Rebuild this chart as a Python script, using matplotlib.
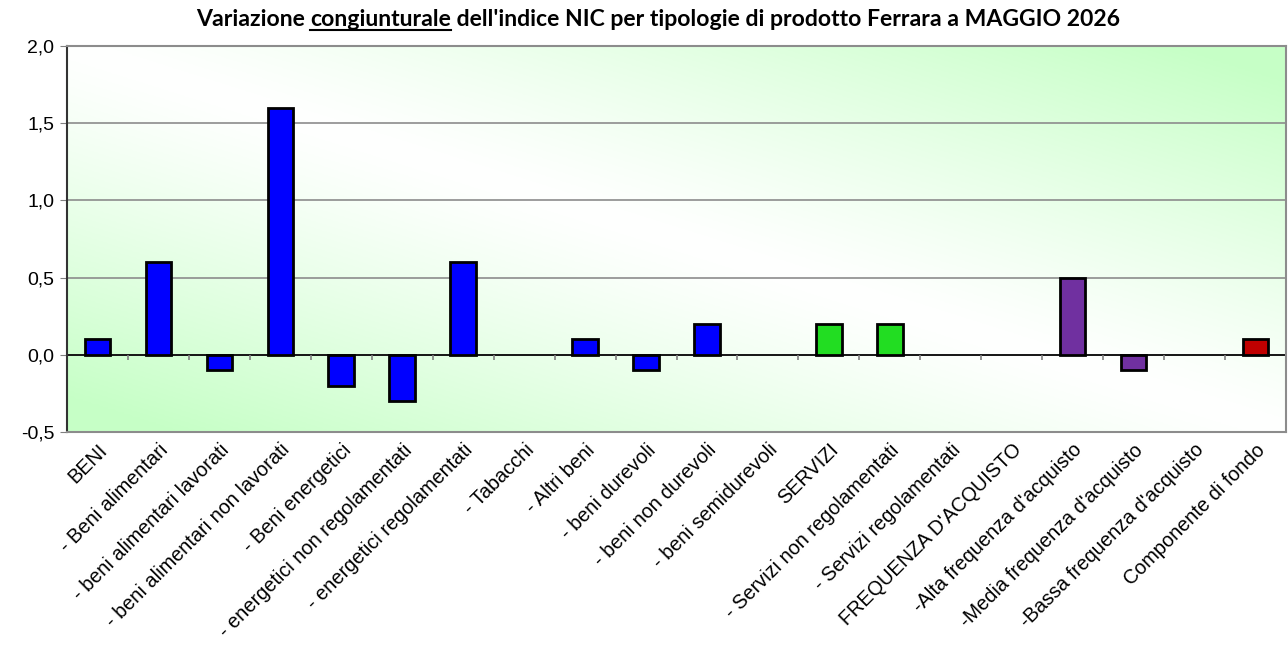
import numpy as np
import matplotlib
matplotlib.use("Agg")
import matplotlib.pyplot as plt
from matplotlib.ticker import FuncFormatter

categories = ["BENI", "- Beni alimentari", "- beni alimentari lavorati",
              "- beni alimentari non lavorati", "- Beni energetici",
              "- energetici non regolamentati", "- energetici regolamentati",
              "- Tabacchi", "- Altri beni", "- beni durevoli", "- beni non durevoli",
              "- beni semidurevoli", "SERVIZI", "- Servizi non regolamentati",
              "- Servizi regolamentati", "FREQUENZA D'ACQUISTO",
              "-Alta frequenza d'acquisto", "-Media frequenza d'acquisto",
              "-Bassa frequenza d'acquisto", "Componente di fondo"]
values = [0.1, 0.6, -0.1, 1.6, -0.2, -0.3, 0.6, 0.0, 0.1, -0.1, 0.2, 0.0,
          0.2, 0.2, 0.0, 0.0, 0.5, -0.1, 0.0, 0.1]
groups = ["beni"] * 12 + ["servizi"] * 3 + ["freq"] * 4 + ["fondo"]
group_colors = {"beni": "#0000FF", "servizi": "#22DD22", "freq": "#7030A0", "fondo": "#C00000"}
yticks = [-0.5, 0.0, 0.5, 1.0, 1.5, 2.0]

W, H = 1288, 650
fig = plt.figure(figsize=(W / 100, H / 100), dpi=100)
ax = fig.add_axes([67 / W, 1 - 432 / H, (1286 - 67) / W, (432 - 46) / H])

# background gradient
nx, ny = 300, 150
u = np.linspace(0, 1, nx)[None, :]
v = np.linspace(1, 0, ny)[:, None]
t = np.clip(np.abs(u + v - 1) * 1.1, 0, 1) ** 1.2
white = np.array([1.0, 1.0, 1.0])
green = np.array([0.78, 1.0, 0.78])
img = white[None, None, :] * (1 - t[..., None]) + green[None, None, :] * t[..., None]
ax.imshow(img, extent=[0, 1, 0, 1], transform=ax.transAxes, aspect="auto", zorder=0)

x = np.arange(len(categories))
colors = [group_colors[g] for g in groups]
lws = [2 if val != 0 else 0 for val in values]
ax.bar(x, values, width=0.42, color=colors, edgecolor="black", linewidth=lws, zorder=3)

ax.set_xlim(-0.5, len(categories) - 0.5)
ax.set_ylim(-0.5, 2.0)
ax.set_yticks(yticks)
ax.yaxis.set_major_formatter(FuncFormatter(lambda val, p: f"{val:.1f}".replace(".", ",")))
ax.grid(axis="y", color="#8c8c8c", linewidth=1.2, zorder=1)
ax.set_axisbelow(True)
ax.axhline(0, color="black", linewidth=1.2, zorder=2)
# category separator ticks on the zero line
ax.vlines(x[:-1] + 0.5, -0.035, 0, color="#808080", linewidth=1.2, zorder=2)

ax.set_xticks(x)
ax.set_xticklabels(categories, rotation=45, ha="right", rotation_mode="anchor",
                   fontsize=14.3, family="Liberation Sans")
ax.tick_params(axis="x", length=0, pad=6)
ax.tick_params(axis="y", length=5, color="#808080", labelsize=14, pad=4)
for lab in ax.get_yticklabels():
    lab.set_family("Liberation Sans")

for s in ["top", "right", "bottom"]:
    ax.spines[s].set_color("#8c8c8c")
    ax.spines[s].set_linewidth(1.5)
ax.spines["left"].set_color("#333333")
ax.spines["left"].set_linewidth(1.5)

# title with underlined word
title_y = 1 - 26 / H
fs = 16.6
parts = ["Variazione ", "congiunturale", " dell'indice NIC per tipologie di prodotto Ferrara a MAGGIO 2026"]
renderer = fig.canvas.get_renderer()
tmp = [fig.text(0, 0, p, fontsize=fs, fontweight="bold", family="Lato") for p in parts]
widths = [tt.get_window_extent(renderer).width for tt in tmp]
for tt in tmp:
    tt.remove()
total = sum(widths)
x0 = 658 - total / 2
cur = x0
for p, wdt in zip(parts, widths):
    fig.text(cur / W, title_y, p, fontsize=fs, fontweight="bold", family="Lato", va="baseline")
    if p == "congiunturale":
        fig.add_artist(plt.Line2D([cur / W, (cur + wdt) / W], [title_y - 3.5 / H, title_y - 3.5 / H],
                                  color="black", linewidth=1.5, transform=fig.transFigure))
    cur += wdt

fig.savefig("out.png", dpi=100)
